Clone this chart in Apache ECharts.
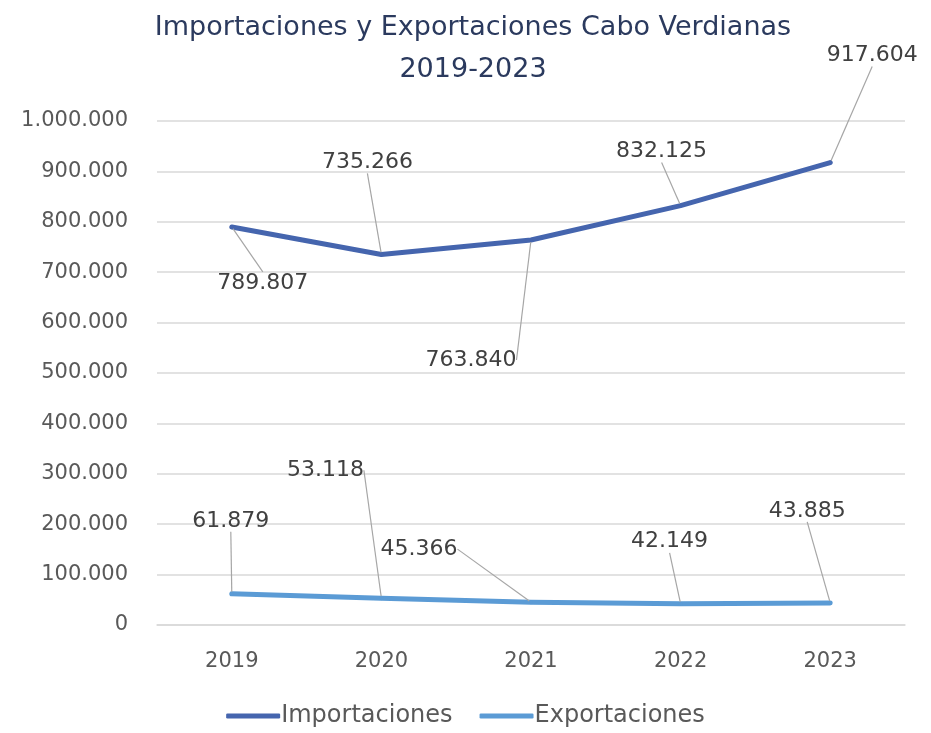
<!DOCTYPE html>
<html>
<head>
<meta charset="utf-8">
<script src="https://cdn.jsdelivr.net/npm/echarts@6/dist/echarts.min.js"></script>
<style>html,body{margin:0;padding:0;background:#fff;}#c{width:931px;height:733px;}</style>
</head>
<body>
<div id="c"></div>
<script>
const years = ['2019', '2020', '2021', '2022', '2023'];
const importaciones = [789807, 735266, 763840, 832125, 917604];
const exportaciones = [61879, 53118, 45366, 42149, 43885];
const yTicks = { min: 0, max: 1000000, interval: 100000 };

// label offsets (label centre relative to the point), px
const impOffsets = [[31, 56], [-14, -92], [-60, 120], [-19, -54], [42, -107]];
const expOffsets = [[-1, -73], [-56, -128], [-112, -53], [-11, -62], [-23, -92]];

const fmt = v => String(Math.round(v)).replace(/\B(?=(\d{3})+(?!\d))/g, '.');
const FONT = "'DejaVu Sans', 'Open Sans', sans-serif";

const chart = echarts.init(document.getElementById('c'), null, { renderer: 'canvas' });

function layoutFor(offsets) {
  return function (p) {
    const o = offsets[p.dataIndex];
    const r = p.labelRect;
    const cx = r.x + r.width / 2, cy = r.y + r.height / 2;
    const vals = p.seriesIndex === 0 ? importaciones : exportaciones;
    const pt = chart.convertToPixel({ gridIndex: 0 }, [p.dataIndex, vals[p.dataIndex]]);
    return { dx: pt[0] + o[0] - cx, dy: pt[1] + o[1] - cy };
  };
}

function mkSeries(name, data, color, offsets) {
  return {
    name, type: 'line', data,
    symbol: 'circle', symbolSize: 4, showSymbol: true,
    itemStyle: { color },
    lineStyle: { color, width: 5, cap: 'round', join: 'round' },
    label: {
      show: true, position: 'inside', formatter: p => fmt(p.value),
      color: '#404040', fontSize: 22, fontFamily: FONT
    },
    labelLine: { show: true, lineStyle: { color: '#a6a6a6', width: 1.2 } },
    labelLayout: layoutFor(offsets),
    emphasis: { disabled: true },
    animation: false
  };
}

chart.setOption({
  animation: false,
  title: {
    text: 'Importaciones y Exportaciones Cabo Verdianas\n2019-2023',
    left: 468, textAlign: 'center', top: 2,
    textStyle: { color: '#2b3a5e', fontSize: 27, fontWeight: 'normal', fontFamily: FONT, lineHeight: 42 }
  },
  grid: { left: 157, right: 26, top: 121, bottom: 108, containLabel: false },
  legend: {
    bottom: 0, left: 'center',
    itemWidth: 54, itemHeight: 5, itemGap: 27,
    icon: 'roundRect',
    textStyle: { color: '#595959', fontSize: 24, fontFamily: FONT, padding: [0, 0, 0, -4] },
    data: ['Importaciones', 'Exportaciones']
  },
  xAxis: {
    type: 'category', data: years, boundaryGap: true,
    axisLine: { show: true, lineStyle: { color: '#d9d9d9', width: 1.5 } },
    axisTick: { show: false },
    axisLabel: { color: '#595959', fontSize: 21, fontFamily: FONT, margin: 26 }
  },
  yAxis: {
    type: 'value', min: yTicks.min, max: yTicks.max, interval: yTicks.interval,
    axisLine: { show: false }, axisTick: { show: false },
    splitLine: { lineStyle: { color: '#d9d9d9', width: 1.5 } },
    axisLabel: { color: '#595959', fontSize: 21, fontFamily: FONT, margin: 29, formatter: v => fmt(v) }
  },
  series: [
    mkSeries('Importaciones', importaciones, '#4565ae', impOffsets),
    mkSeries('Exportaciones', exportaciones, '#5b9bd5', expOffsets)
  ]
});
</script>
</body>
</html>
